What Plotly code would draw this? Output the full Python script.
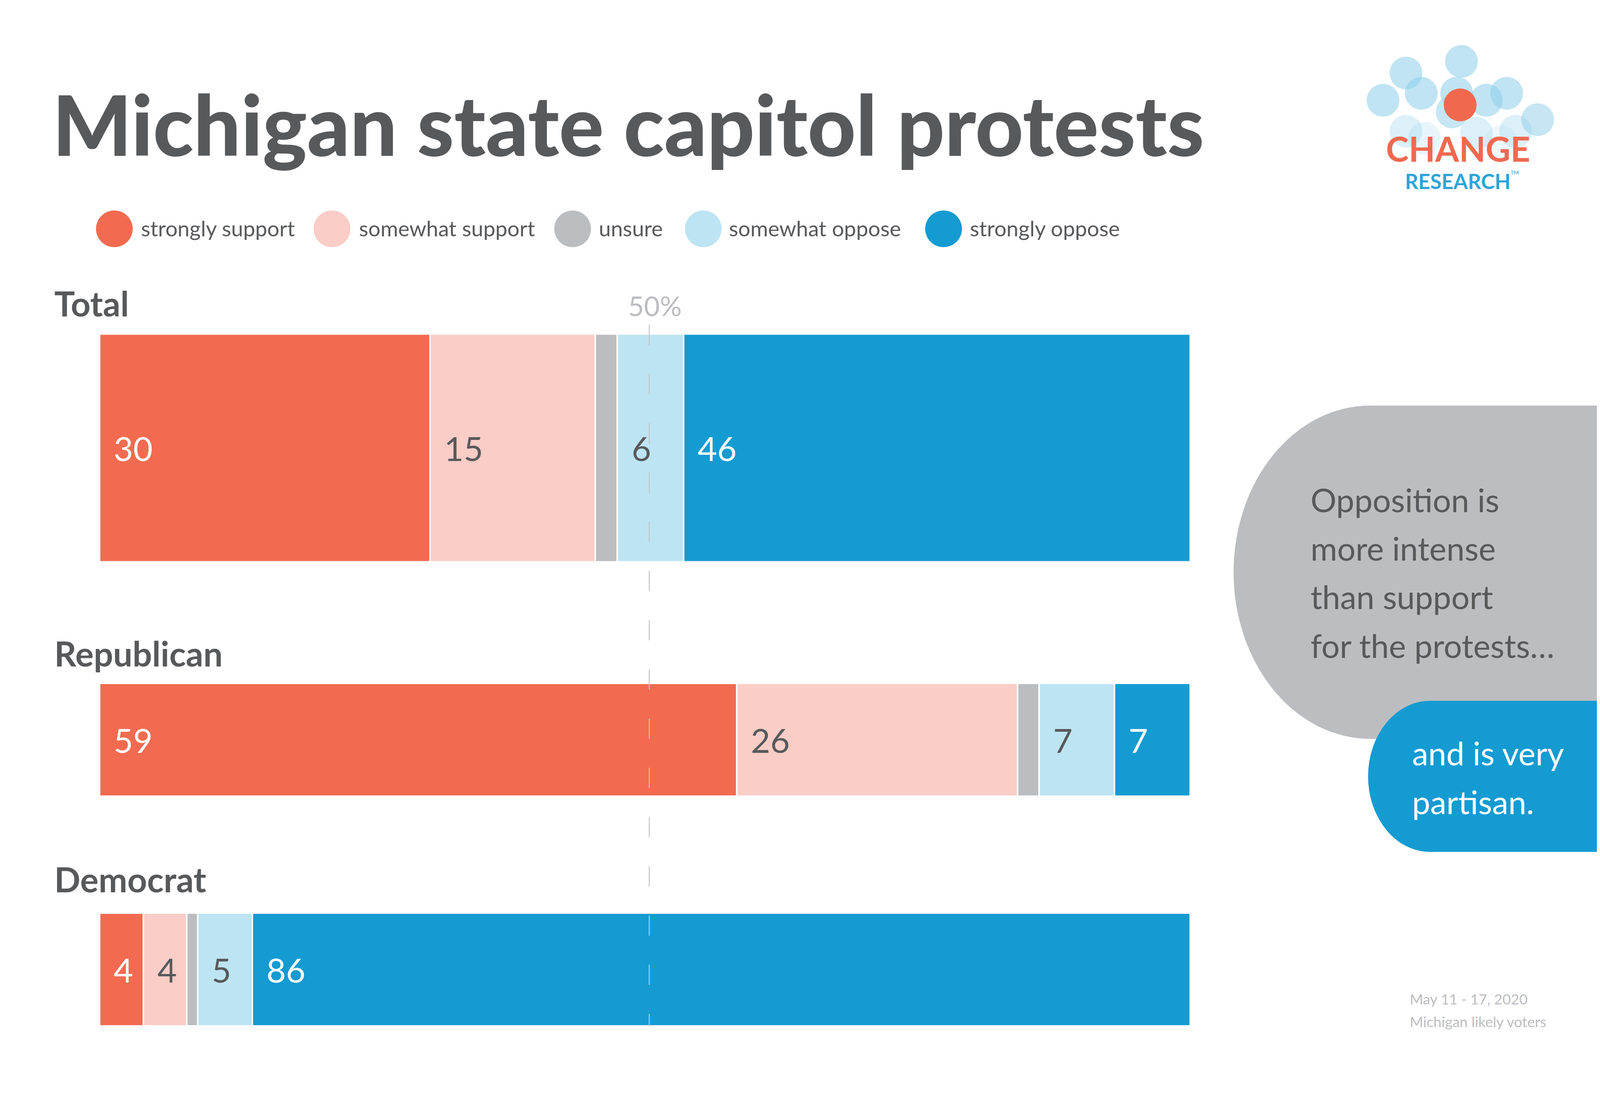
import plotly.graph_objects as go

# ---------------- data ----------------
groups = ["Total", "Republican", "Democrat"]
categories = ["strongly support", "somewhat support", "unsure", "somewhat oppose", "strongly oppose"]
total_vals = [30, 15, 2, 6, 46]
republican_vals = [59, 26, 2, 7, 7]
democrat_vals = [4, 4, 1, 5, 86]
labelled = [True, True, False, True, True]
reference_pct = 50

title_text = "Michigan state capitol protests"
callout_grey = ["Opposition is", "more intense", "than support", "for the protests…"]
callout_blue = ["and is very", "partisan."]
footnote = ["May 11 - 17, 2020", "Michigan likely voters"]

# ---------------- style / layout ----------------
# Browser viewport is 4096 wide (8px body margin) -> figure 4080 x 2797.
W, H = 4080, 2797
RW, RH = 5001, 2813          # reference design grid; positions below are given on it
FONT = "Lato"
DARK = "#58595B"
GREY = "#BCBDC0"
colors = ["#F26B50", "#FACDC7", "#BCBDC0", "#BDE4F3", "#149BD2"]
label_colors = ["white", DARK, DARK, DARK, "white"]


def fx(p):
    return p / RW


def fy(p):
    return 1 - p / RH


def circle(cx, cy, r_px, color, opacity=1.0, layer="above"):
    return dict(type="circle", xref="paper", yref="paper", layer=layer,
                x0=fx(cx) - r_px / W, x1=fx(cx) + r_px / W,
                y0=fy(cy) - r_px / H, y1=fy(cy) + r_px / H,
                fillcolor=color, opacity=opacity, line=dict(width=0))


values_by_group = [total_vals, republican_vals, democrat_vals]
yaxes = ["y", "y2", "y3"]
ydomains = [(852, 1438), (1751, 2042), (2342, 2633)]
label_centres = [772, 1674, 2255]

fig = go.Figure()
annotations = []
shapes = []

for gi, (g, vals, ya) in enumerate(zip(groups, values_by_group, yaxes)):
    for ci, cat in enumerate(categories):
        fig.add_trace(go.Bar(
            x=[vals[ci]], y=[g], orientation="h", name=cat,
            xaxis="x", yaxis=ya, width=1,
            marker=dict(color=colors[ci], line=dict(color="white", width=4)),
            showlegend=False, hoverinfo="skip",
        ))
    tot = sum(vals)
    cum = 0.0
    for ci, v in enumerate(vals):
        if labelled[ci]:
            annotations.append(dict(
                x=cum, y=g, xref="x", yref=ya, text=str(v), showarrow=False,
                xanchor="left", yanchor="middle", xshift=34,
                font=dict(family=FONT, size=86, color=label_colors[ci]),
            ))
        cum += v / tot * 100
    annotations.append(dict(
        x=fx(158), y=fy(label_centres[gi]), xref="paper", yref="paper",
        text=f"<b>{g}</b>", showarrow=False, xanchor="left", yanchor="middle",
        font=dict(family=FONT, size=88, color=DARK),
    ))

layout_axes = dict(
    xaxis=dict(domain=[fx(303), fx(3725)], range=[0, 100], visible=False, fixedrange=True),
)
for ya, (t, b) in zip(yaxes, ydomains):
    key = "yaxis" if ya == "y" else "yaxis" + ya[1:]
    layout_axes[key] = dict(domain=[fy(b), fy(t)], range=[-0.5, 0.5], type="category",
                            visible=False, anchor="x", fixedrange=True)

# 50% reference line (anchored at 50 on the value axis, drawn a few px right as in the original)
shapes.append(dict(type="line", xref="x", yref="paper", xsizemode="pixel", xanchor=reference_pct,
                   x0=11, x1=11, y0=fy(828), y1=fy(2633), layer="above",
                   line=dict(color="#C4C5C7", width=2.5, dash="52px,74px")))
annotations.append(dict(x=reference_pct, y=fy(778), xref="x", yref="paper", text=f"{reference_pct}%",
                        showarrow=False, xanchor="center", yanchor="middle", xshift=25,
                        font=dict(family=FONT, size=70, color=GREY)))

# title
annotations.append(dict(x=fx(152), y=fy(310), xref="paper", yref="paper", text=title_text,
                        showarrow=False, xanchor="left", yanchor="middle",
                        font=dict(family=FONT, size=214, color=DARK, weight=900)))

# legend (manual, circle markers)
legend_circle_x = [349, 1032, 1787, 2197, 2951]
legend_text_x = [436, 1120, 1873, 2281, 3037]
LEG_Y = 581
for ci, cat in enumerate(categories):
    shapes.append(circle(legend_circle_x[ci], LEG_Y, 47, colors[ci]))
    annotations.append(dict(x=fx(legend_text_x[ci] - 6), y=fy(LEG_Y - 2), xref="paper", yref="paper",
                            text=cat, showarrow=False, xanchor="left", yanchor="middle",
                            font=dict(family=FONT, size=55, color=DARK)))

# callout bubbles (rounded left end + rectangle to the right edge)
def pill(x_left, y_top, y_bot, color):
    ry = (y_bot - y_top) / 2
    cx = x_left + ry
    shapes.append(dict(type="circle", xref="paper", yref="paper", layer="below",
                       x0=fx(x_left), x1=fx(x_left + 2 * ry), y0=fy(y_bot), y1=fy(y_top),
                       fillcolor=color, line=dict(width=0)))
    shapes.append(dict(type="rect", xref="paper", yref="paper", layer="below",
                       x0=fx(cx), x1=1.0, y0=fy(y_bot), y1=fy(y_top),
                       fillcolor=color, line=dict(width=0)))

pill(3861, 1036, 1894, GREY)
pill(4283, 1796, 2185, "#149BD2")

CALL_SIZE = 83
for line, base in zip(callout_grey, [1309, 1434, 1558, 1684]):
    annotations.append(dict(x=fx(4100), y=fy(base - 0.37 * CALL_SIZE), xref="paper", yref="paper",
                            text=line, showarrow=False, xanchor="left", yanchor="middle",
                            font=dict(family=FONT, size=CALL_SIZE, color=DARK)))
for line, base in zip(callout_blue, [1961, 2086]):
    annotations.append(dict(x=fx(4419), y=fy(base - 0.37 * CALL_SIZE), xref="paper", yref="paper",
                            text=line, showarrow=False, xanchor="left", yanchor="middle",
                            font=dict(family=FONT, size=CALL_SIZE, color="white")))

# footnote
for line, base in zip(footnote, [2577, 2635]):
    annotations.append(dict(x=fx(4412), y=fy(base - 0.37 * 37), xref="paper", yref="paper",
                            text=line, showarrow=False, xanchor="left", yanchor="middle",
                            font=dict(family=FONT, size=37, color=GREY)))

# logo
logo_circles = [(4330, 250, 0.55), (4402, 180, 0.55), (4450, 232, 0.55), (4576, 150, 0.55),
                (4561, 232, 0.55), (4547, 280, 0.5), (4654, 250, 0.55), (4718, 232, 0.55),
                (4815, 300, 0.5), (4402, 330, 0.3), (4623, 335, 0.3), (4746, 330, 0.3),
                (4460, 348, 0.2), (4700, 356, 0.15)]
for cx, cy, op in logo_circles:
    shapes.append(circle(cx, cy, 42, "#8DCDEA", op))
shapes.append(circle(4572, 262, 42, "#F0694F"))
annotations.append(dict(x=fx(4565), y=fy(374), xref="paper", yref="paper", text="<b>CHANGE</b>",
                        showarrow=False, xanchor="center", yanchor="middle",
                        font=dict(family=FONT, size=88, color="#F0694F")))
annotations.append(dict(x=fx(4565), y=fy(458), xref="paper", yref="paper", text="<b>RESEARCH</b>",
                        showarrow=False, xanchor="center", yanchor="middle",
                        font=dict(family=FONT, size=53, color="#2FA3D8")))
annotations.append(dict(x=fx(4728), y=fy(436), xref="paper", yref="paper", text="TM",
                        showarrow=False, xanchor="left", yanchor="middle",
                        font=dict(family=FONT, size=14, color="#2FA3D8")))

fig.update_layout(
    width=W, height=H,
    margin=dict(l=0, r=0, t=0, b=0),
    paper_bgcolor="white", plot_bgcolor="white",
    barmode="stack", barnorm="percent", bargap=0,
    annotations=annotations, shapes=shapes,
    showlegend=False,
    **layout_axes,
)

fig.write_html("out.html")
